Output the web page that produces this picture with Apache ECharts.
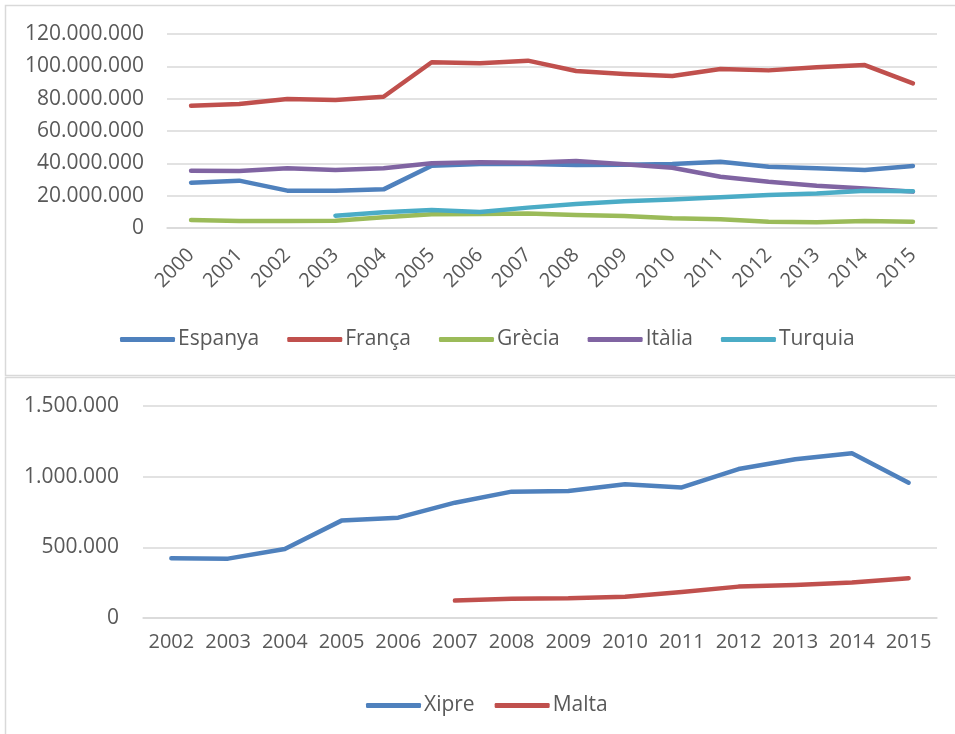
<!DOCTYPE html>
<html><head><meta charset="utf-8">
<script src="https://cdn.jsdelivr.net/npm/echarts@6/dist/echarts.min.js"></script>
<style>html,body{margin:0;padding:0;background:#fff}#c{width:955px;height:734px}</style>
</head><body><div id="c"></div>
<script>
const yearsTop = ['2000','2001','2002','2003','2004','2005','2006','2007','2008','2009','2010','2011','2012','2013','2014','2015'];
const espanya = [28.0,29.3,23.1,23.1,23.9,38.5,39.6,39.6,39.0,39.2,39.6,41.0,37.9,36.9,35.9,38.4];
const franca  = [75.6,76.7,79.8,79.2,81.2,102.5,101.9,103.5,97.1,95.3,94.0,98.4,97.5,99.4,100.8,89.5];
const grecia  = [4.9,4.3,4.3,4.5,6.6,8.5,8.6,8.9,8.0,7.4,6.0,5.4,3.9,3.5,4.3,3.9];
const italia  = [35.4,35.3,36.9,35.9,36.9,40.0,40.6,40.4,41.4,39.4,37.3,31.7,28.6,26.2,24.5,22.5];
const turquia = [null,null,null,7.6,9.7,11.1,9.9,12.6,14.8,16.5,17.7,19.0,20.4,21.4,23.1,22.7];
const yearsBottom = ['2002','2003','2004','2005','2006','2007','2008','2009','2010','2011','2012','2013','2014','2015'];
const xipre = [422,420,488,689,710,816,894,899,946,924,1054,1123,1165,957];
const malta = [null,null,null,null,null,123,137,139,151,184,222,233,252,281];

const M = v => v == null ? null : Math.round(v * 1000000);
const K = v => v == null ? null : Math.round(v * 1000);
const fmt = v => String(Math.round(v)).replace(/\B(?=(\d{3})+(?!\d))/g, '.');

const txt = '#595959';
const font = 'Open Sans';
const grid = '#d9d9d9';
const C = {esp:'#4F81BD', fra:'#C0504D', gre:'#9BBB59', ita:'#8064A2', tur:'#4BACC6'};

function line(name, data, color, xi) {
  return {name, type:'line', data, xAxisIndex:xi, yAxisIndex:xi, symbol:'none', smooth:false,
    connectNulls:false, lineStyle:{color, width:4.5, cap:'round', join:'round'}, itemStyle:{color}, animation:false};
}

const chart = echarts.init(document.getElementById('c'), null, {renderer:'canvas'});
chart.setOption({
  animation:false,
  textStyle:{fontFamily:font},
  graphic:[
    {type:'polyline', shape:{points:[[955,5.5],[5.5,5.5],[5.5,375.5],[955,375.5]]}, style:{stroke:grid, lineWidth:1.5, fill:null}},
    {type:'polyline', shape:{points:[[955,377.5],[5.5,377.5],[5.5,734]]}, style:{stroke:grid, lineWidth:1.5, fill:null}}
  ],
  grid:[
    {left:167, right:18, top:34, height:194},
    {left:143, right:18, top:406, height:212}
  ],
  legend:[
    {left:115, top:324, itemWidth:55, itemHeight:5, itemGap:28, icon:'roundRect',
     textStyle:{color:txt, fontSize:21, fontFamily:font, padding:[0,0,0,-2]},
     data:['Espanya','França','Grècia','Itàlia','Turquia']},
    {left:361, top:690, itemWidth:55, itemHeight:5, itemGap:20, icon:'roundRect',
     textStyle:{color:txt, fontSize:21, fontFamily:font, padding:[0,0,0,-2]},
     data:['Xipre','Malta']}
  ],
  xAxis:[
    {type:'category', gridIndex:0, data:yearsTop, boundaryGap:true,
     axisLine:{lineStyle:{color:grid, width:1.5}}, axisTick:{show:false},
     axisLabel:{color:txt, fontSize:20, rotate:45, margin:24, interval:0, fontFamily:font}},
    {type:'category', gridIndex:1, data:yearsBottom, boundaryGap:true,
     axisLine:{lineStyle:{color:grid, width:1.5}}, axisTick:{show:false},
     axisLabel:{color:txt, fontSize:20, margin:14, interval:0, fontFamily:font}}
  ],
  yAxis:[
    {type:'value', gridIndex:0, min:0, max:120000000, interval:20000000,
     axisLine:{show:false}, axisTick:{show:false},
     splitLine:{lineStyle:{color:grid, width:1.5}},
     axisLabel:{color:txt, fontSize:21, margin:23, formatter:fmt, fontFamily:font}},
    {type:'value', gridIndex:1, min:0, max:1500000, interval:500000,
     axisLine:{show:false}, axisTick:{show:false},
     splitLine:{lineStyle:{color:grid, width:1.5}},
     axisLabel:{color:txt, fontSize:21, margin:24, formatter:fmt, fontFamily:font}}
  ],
  series:[
    line('Espanya', espanya.map(M), C.esp, 0),
    line('França', franca.map(M), C.fra, 0),
    line('Grècia', grecia.map(M), C.gre, 0),
    line('Itàlia', italia.map(M), C.ita, 0),
    line('Turquia', turquia.map(M), C.tur, 0),
    line('Xipre', xipre.map(K), C.esp, 1),
    line('Malta', malta.map(K), C.fra, 1)
  ]
});
</script></body></html>
